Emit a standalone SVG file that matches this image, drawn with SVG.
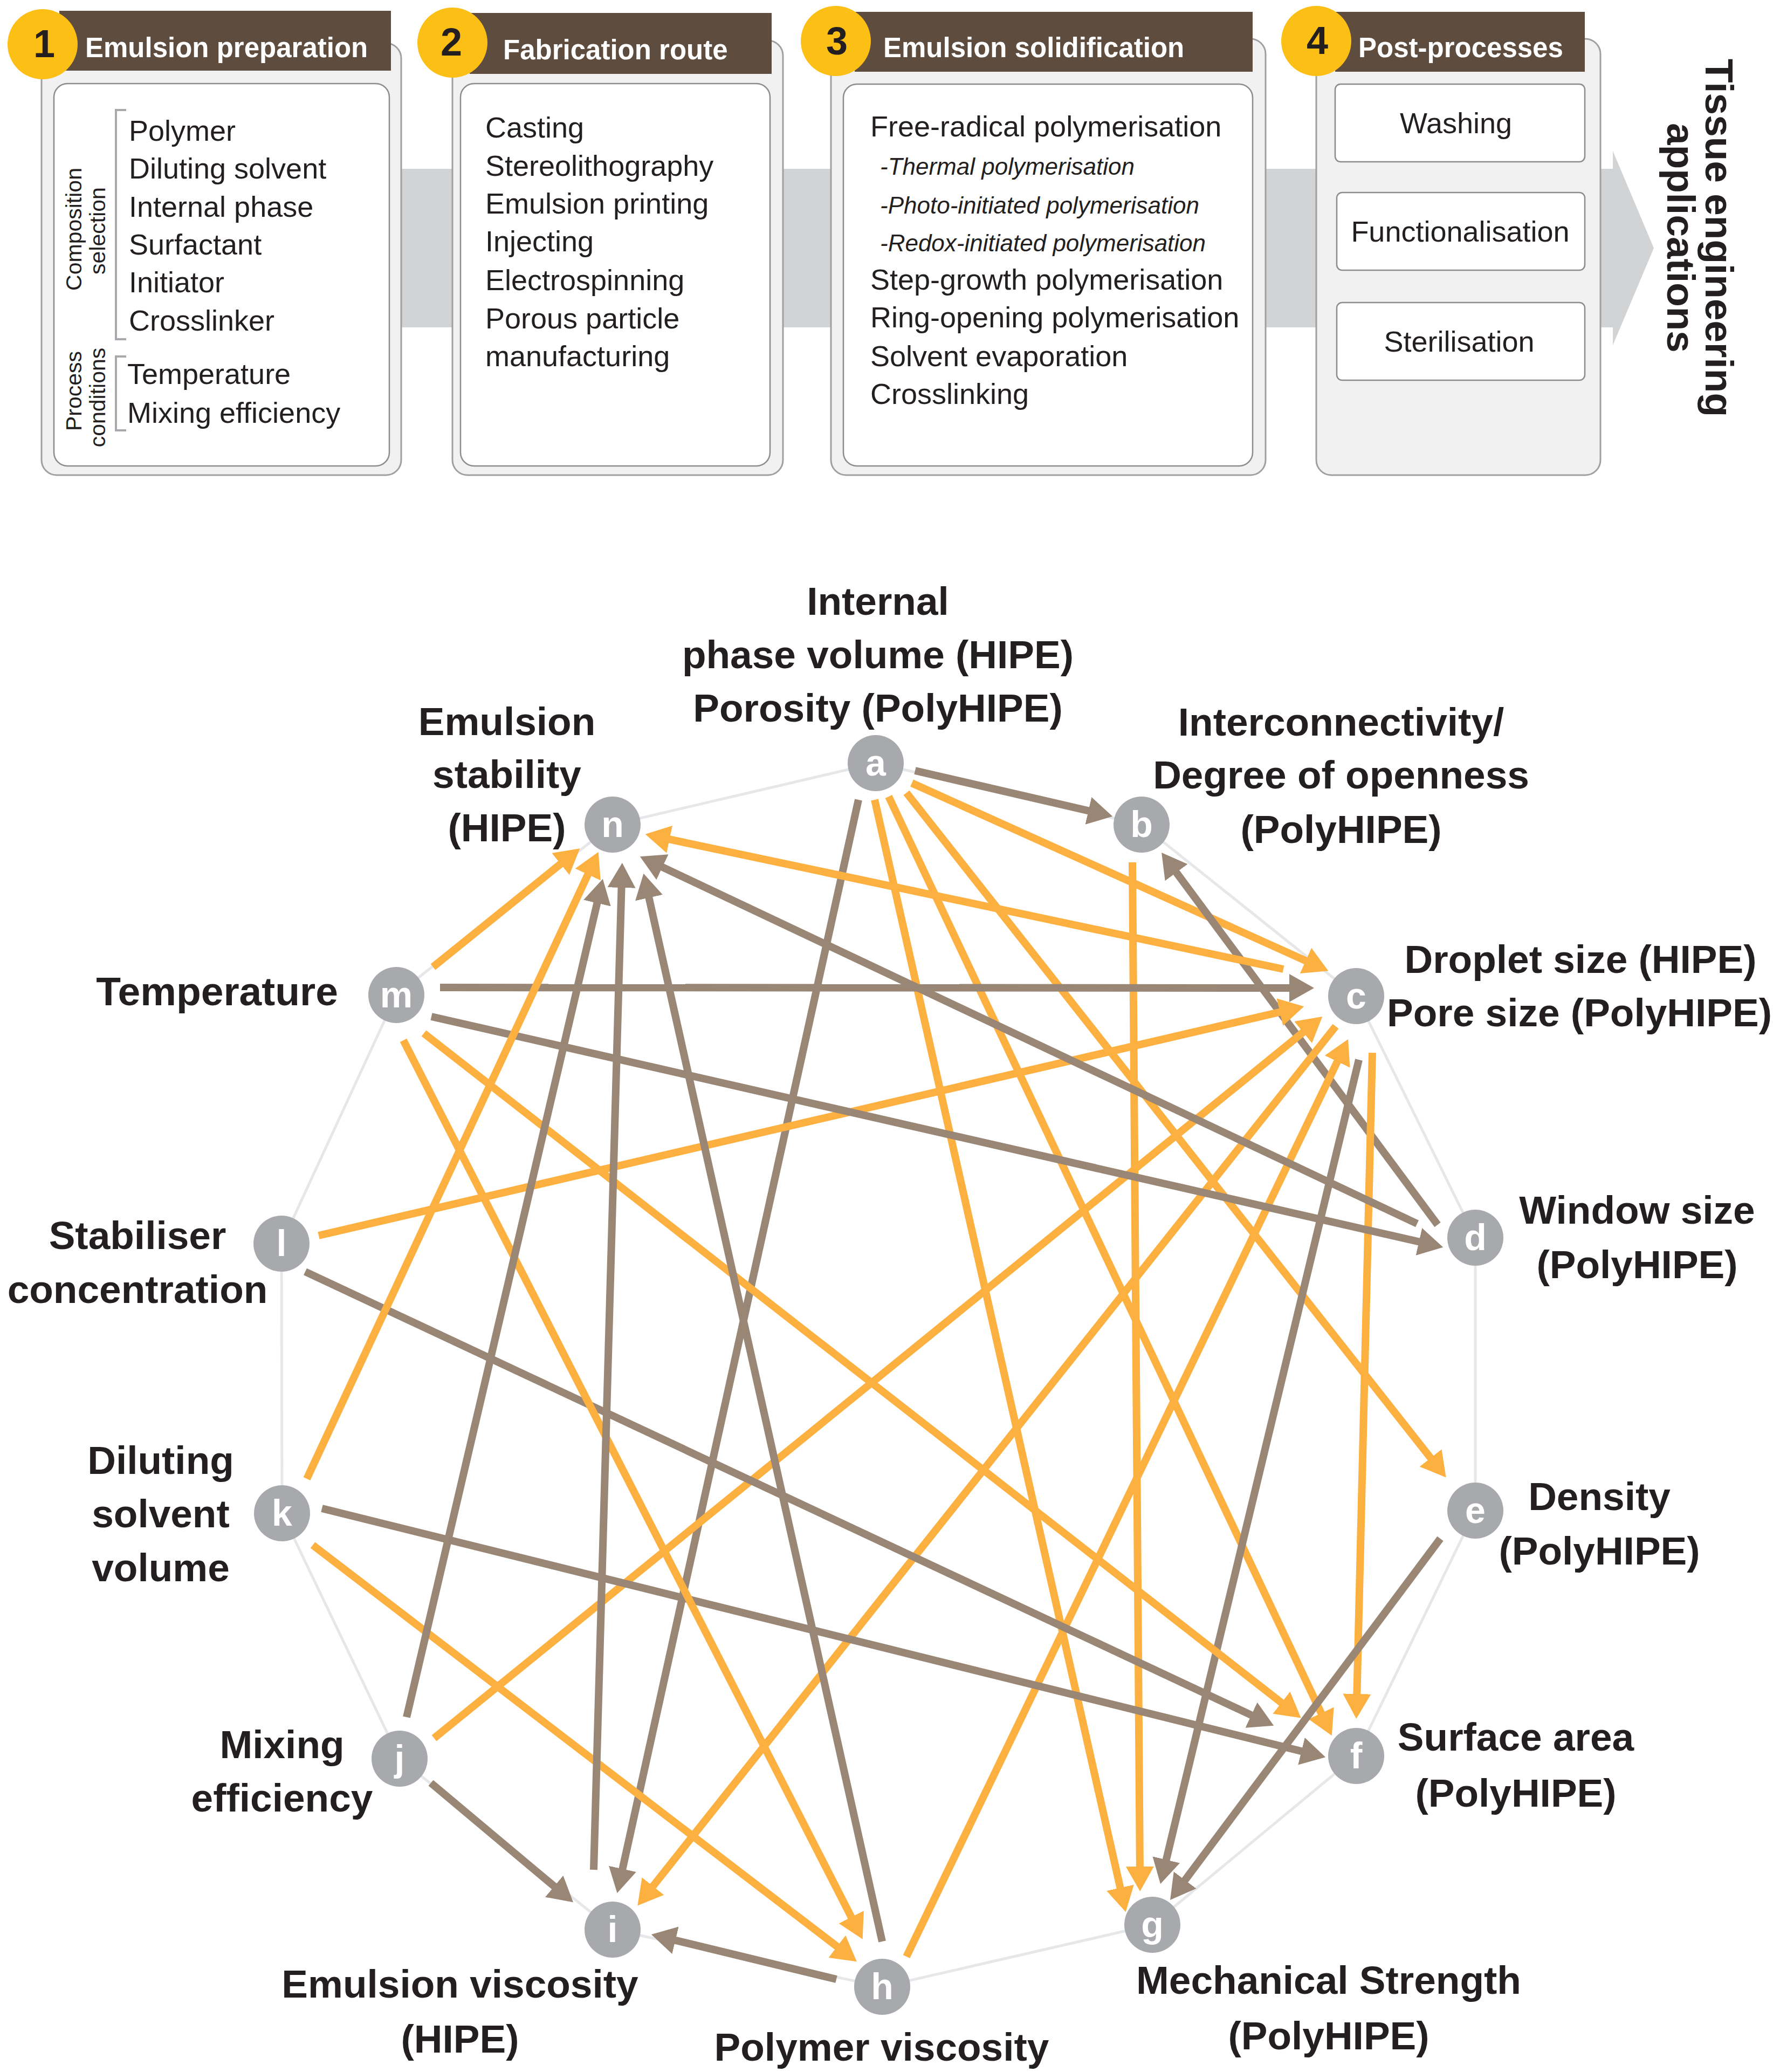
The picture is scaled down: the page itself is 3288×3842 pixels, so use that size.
<svg xmlns="http://www.w3.org/2000/svg" width="3288" height="3842" viewBox="0 0 3288 3842">
<style>
.outer{fill:#f1f1f2;stroke:#a0a0a2;stroke-width:3}
.inner{fill:#ffffff;stroke:#8c8c8e;stroke-width:2.5}
.hdr{fill:#5e4c3e}
.yc{fill:#fcbf16}
.num{font-family:'Liberation Sans',Arial,sans-serif;font-weight:bold;font-size:72px;fill:#231f20;text-anchor:middle}
.htx{font-family:'Liberation Sans',Arial,sans-serif;font-weight:bold;font-size:51px;fill:#ffffff}
.lst{font-family:'Liberation Sans',Arial,sans-serif;font-size:54px;fill:#231f20}
.ctr{text-anchor:middle}
.ital{font-family:'Liberation Sans',Arial,sans-serif;font-style:italic;font-size:44px;fill:#231f20}
.rot{font-family:'Liberation Sans',Arial,sans-serif;font-size:41px;fill:#231f20;text-anchor:middle}
.brk{fill:none;stroke:#a7a9ac;stroke-width:4}
.tea{font-family:'Liberation Sans',Arial,sans-serif;font-weight:bold;font-size:73px;fill:#231f20;text-anchor:middle}
.lbl{font-family:'Liberation Sans',Arial,sans-serif;font-weight:bold;font-size:73px;fill:#231f20;text-anchor:middle}
.lbr{font-family:'Liberation Sans',Arial,sans-serif;font-weight:bold;font-size:75px;fill:#231f20;text-anchor:end}
.nd{fill:#a7a9ac}
.nl{font-family:'Liberation Sans',Arial,sans-serif;font-weight:bold;font-size:68px;fill:#ffffff;text-anchor:middle}
.ring{fill:none;stroke:#e6e7e8;stroke-width:5}
.eo{stroke:#fbb040;stroke-width:14;fill:none;marker-end:url(#ao)}
.eb{stroke:#998675;stroke-width:14;fill:none;marker-end:url(#ab)}
</style>
<defs>
<marker id="ao" markerUnits="userSpaceOnUse" markerWidth="48" markerHeight="54" viewBox="0 0 48 54" refX="16" refY="26" orient="auto"><path d="M0,0 L46,26 L0,52 Z" fill="#fbb040"/></marker>
<marker id="ab" markerUnits="userSpaceOnUse" markerWidth="48" markerHeight="54" viewBox="0 0 48 54" refX="16" refY="26" orient="auto"><path d="M0,0 L46,26 L0,52 Z" fill="#998675"/></marker>
</defs>
<rect width="3288" height="3842" fill="#ffffff"/>

<!-- process band -->
<path id="band" d="M300,313 L2991,313 L2991,280 L3067,460 L2991,640 L2991,607 L300,607 Z" fill="#d1d3d4"/>

<g id="panel1">
<rect class="outer" x="77" y="80" width="667" height="801" rx="28"/>
<rect class="inner" x="100" y="155" width="622" height="709" rx="25"/>
<rect class="hdr" x="110" y="20" width="615" height="111"/>
<circle class="yc" cx="79" cy="82" r="65"/>
<text class="num" x="82" y="106">1</text>
<text class="htx" x="158" y="106">Emulsion preparation</text>
<path class="brk" d="M234,204 L215,204 L215,629 L234,629"/>
<path class="brk" d="M234,661 L215,661 L215,798 L234,798"/>
<text class="rot" transform="translate(151,425) rotate(-90)">Composition</text>
<text class="rot" transform="translate(195,428) rotate(-90)">selection</text>
<text class="rot" transform="translate(151,725) rotate(-90)">Process</text>
<text class="rot" transform="translate(195,737) rotate(-90)">conditions</text>
<text class="lst" x="239" y="261">Polymer</text>
<text class="lst" x="239" y="331">Diluting solvent</text>
<text class="lst" x="239" y="402">Internal phase</text>
<text class="lst" x="239" y="472">Surfactant</text>
<text class="lst" x="239" y="542">Initiator</text>
<text class="lst" x="239" y="613">Crosslinker</text>
<text class="lst" x="236" y="712">Temperature</text>
<text class="lst" x="236" y="784">Mixing efficiency</text>
</g>

<g id="panel2">
<rect class="outer" x="839" y="75" width="613" height="806" rx="28"/>
<rect class="inner" x="854" y="155" width="574" height="709" rx="25"/>
<rect class="hdr" x="871" y="24" width="560" height="113"/>
<circle class="yc" cx="839" cy="79" r="65"/>
<text class="num" x="837" y="103">2</text>
<text class="htx" x="933" y="110">Fabrication route</text>
<text class="lst" x="900" y="255">Casting</text>
<text class="lst" x="900" y="326">Stereolithography</text>
<text class="lst" x="900" y="396">Emulsion printing</text>
<text class="lst" x="900" y="466">Injecting</text>
<text class="lst" x="900" y="538">Electrospinning</text>
<text class="lst" x="900" y="609">Porous particle</text>
<text class="lst" x="900" y="679">manufacturing</text>
</g>

<g id="panel3">
<rect class="outer" x="1541" y="72" width="806" height="809" rx="28"/>
<rect class="inner" x="1564" y="156" width="759" height="708" rx="25"/>
<rect class="hdr" x="1585" y="22" width="738" height="111"/>
<circle class="yc" cx="1550" cy="76" r="65"/>
<text class="num" x="1552" y="101">3</text>
<text class="htx" x="1638" y="106">Emulsion solidification</text>
<text class="lst" x="1614" y="253">Free-radical polymerisation</text>
<text class="ital" x="1632" y="324">-Thermal polymerisation</text>
<text class="ital" x="1632" y="396">-Photo-initiated polymerisation</text>
<text class="ital" x="1632" y="466">-Redox-initiated polymerisation</text>
<text class="lst" x="1614" y="537">Step-growth polymerisation</text>
<text class="lst" x="1614" y="607">Ring-opening polymerisation</text>
<text class="lst" x="1614" y="679">Solvent evaporation</text>
<text class="lst" x="1614" y="749">Crosslinking</text>
</g>

<g id="panel4">
<rect class="outer" x="2441" y="72" width="527" height="809" rx="28"/>
<rect class="hdr" x="2476" y="22" width="463" height="111"/>
<circle class="yc" cx="2441" cy="76" r="65"/>
<text class="num" x="2443" y="100">4</text>
<text class="htx" x="2519" y="106">Post-processes</text>
<rect class="inner" x="2476" y="156" width="463" height="144" rx="10"/>
<rect class="inner" x="2479" y="357" width="460" height="144" rx="10"/>
<rect class="inner" x="2479" y="561" width="460" height="144" rx="10"/>
<text class="lst ctr" x="2700" y="247">Washing</text>
<text class="lst ctr" x="2708" y="448">Functionalisation</text>
<text class="lst ctr" x="2706" y="652">Sterilisation</text>
</g>

<g id="outcome">
<text class="tea" transform="translate(3163,441) rotate(90)">Tissue engineering</text>
<text class="tea" transform="translate(3092,441) rotate(90)">applications</text>
</g>

<g id="ring">
<polygon class="ring" points="1624,1415 2117,1529 2515,1847 2736,2295 2736,2801 2515,3256 2137,3569 1636,3684 1136,3578 741,3261 523,2806 522,2306 735,1845 1136,1529"/>
</g>

<g id="connectors">
<line class="eb" x1="1697" y1="1429" x2="2034" y2="1507"/>
<line class="eo" x1="1691" y1="1452" x2="2436" y2="1788"/>
<line class="eo" x1="1681" y1="1470" x2="2663" y2="2716"/>
<line class="eo" x1="1648" y1="1477" x2="2457" y2="3191"/>
<line class="eo" x1="1622" y1="1483" x2="2081" y2="3516"/>
<line class="eb" x1="1592" y1="1483" x2="1151" y2="3481"/>
<line class="eo" x1="2100" y1="1599" x2="2114" y2="3477"/>
<line class="eb" x1="2666" y1="2271" x2="2172" y2="1605"/>
<line class="eo" x1="2380" y1="1797" x2="1226" y2="1553"/>
<line class="eo" x1="2545" y1="1952" x2="2516" y2="3157"/>
<line class="eb" x1="2520" y1="1965" x2="2159" y2="3464"/>
<line class="eo" x1="2477" y1="1903" x2="1201" y2="3510"/>
<line class="eb" x1="816" y1="1831" x2="2407" y2="1832"/>
<line class="eo" x1="591" y1="2291" x2="2389" y2="1873"/>
<line class="eo" x1="805" y1="3223" x2="2429" y2="1904"/>
<line class="eo" x1="1681" y1="3628" x2="2487" y2="1954"/>
<line class="eb" x1="2628" y1="2269" x2="1214" y2="1601"/>
<line class="eb" x1="800" y1="1885" x2="2647" y2="2306"/>
<line class="eb" x1="2671" y1="2853" x2="2188" y2="3499"/>
<line class="eb" x1="597" y1="2797" x2="2429" y2="3251"/>
<line class="eb" x1="566" y1="2358" x2="2335" y2="3187"/>
<line class="eo" x1="786" y1="1916" x2="2389" y2="3167"/>
<line class="eb" x1="1636" y1="3600" x2="1200" y2="1649"/>
<line class="eb" x1="1551" y1="3670" x2="1237" y2="3594"/>
<line class="eo" x1="748" y1="1929" x2="1586" y2="3569"/>
<line class="eo" x1="580" y1="2865" x2="1565" y2="3619"/>
<line class="eb" x1="1101" y1="3467" x2="1153" y2="1630"/>
<line class="eb" x1="799" y1="3306" x2="1040" y2="3508"/>
<line class="eb" x1="754" y1="3184" x2="1111" y2="1659"/>
<line class="eo" x1="569" y1="2742" x2="1097" y2="1607"/>
<line class="eo" x1="803" y1="1793" x2="1052" y2="1592"/>
</g>

<g id="node-a"><circle class="nd" cx="1624" cy="1415" r="52"/><text class="nl" x="1624" y="1438">a</text>
<text class="lbl" x="1628" y="1140">Internal</text><text class="lbl" x="1628" y="1239">phase volume (HIPE)</text><text class="lbl" x="1628" y="1338">Porosity (PolyHIPE)</text></g>
<g id="node-b"><circle class="nd" cx="2117" cy="1529" r="52"/><text class="nl" x="2117" y="1552">b</text>
<text class="lbl" x="2487" y="1364">Interconnectivity/</text><text class="lbl" x="2487" y="1462">Degree of openness</text><text class="lbl" x="2487" y="1563">(PolyHIPE)</text></g>
<g id="node-c"><circle class="nd" cx="2515" cy="1847" r="52"/><text class="nl" x="2515" y="1870">c</text>
<text class="lbl" x="2931" y="1804">Droplet size (HIPE)</text><text class="lbl" x="2929" y="1903">Pore size (PolyHIPE)</text></g>
<g id="node-d"><circle class="nd" cx="2736" cy="2295" r="52"/><text class="nl" x="2736" y="2318">d</text>
<text class="lbl" x="3036" y="2269">Window size</text><text class="lbl" x="3036" y="2370">(PolyHIPE)</text></g>
<g id="node-e"><circle class="nd" cx="2736" cy="2801" r="52"/><text class="nl" x="2736" y="2824">e</text>
<text class="lbl" x="2966" y="2800">Density</text><text class="lbl" x="2966" y="2901">(PolyHIPE)</text></g>
<g id="node-f"><circle class="nd" cx="2515" cy="3256" r="52"/><text class="nl" x="2515" y="3279">f</text>
<text class="lbl" x="2811" y="3246">Surface area</text><text class="lbl" x="2811" y="3350">(PolyHIPE)</text></g>
<g id="node-g"><circle class="nd" cx="2137" cy="3569" r="52"/><text class="nl" x="2137" y="3592">g</text>
<text class="lbl" x="2464" y="3697">Mechanical Strength</text><text class="lbl" x="2464" y="3800">(PolyHIPE)</text></g>
<g id="node-h"><circle class="nd" cx="1636" cy="3684" r="52"/><text class="nl" x="1636" y="3707">h</text>
<text class="lbl" x="1635" y="3821">Polymer viscosity</text></g>
<g id="node-i"><circle class="nd" cx="1136" cy="3578" r="52"/><text class="nl" x="1136" y="3601">i</text>
<text class="lbl" x="853" y="3704">Emulsion viscosity</text><text class="lbl" x="853" y="3806">(HIPE)</text></g>
<g id="node-j"><circle class="nd" cx="741" cy="3261" r="52"/><text class="nl" x="741" y="3284">j</text>
<text class="lbl" x="523" y="3260">Mixing</text><text class="lbl" x="523" y="3359">efficiency</text></g>
<g id="node-k"><circle class="nd" cx="523" cy="2806" r="52"/><text class="nl" x="523" y="2829">k</text>
<text class="lbl" x="298" y="2733">Diluting</text><text class="lbl" x="298" y="2832">solvent</text><text class="lbl" x="298" y="2932">volume</text></g>
<g id="node-l"><circle class="nd" cx="522" cy="2306" r="52"/><text class="nl" x="522" y="2329">l</text>
<text class="lbl" x="255" y="2316">Stabiliser</text><text class="lbl" x="255" y="2416">concentration</text></g>
<g id="node-m"><circle class="nd" cx="735" cy="1845" r="52"/><text class="nl" x="735" y="1868">m</text>
<text class="lbr" x="627" y="1864">Temperature</text></g>
<g id="node-n"><circle class="nd" cx="1136" cy="1529" r="52"/><text class="nl" x="1136" y="1552">n</text>
<text class="lbl" x="940" y="1363">Emulsion</text><text class="lbl" x="940" y="1461">stability</text><text class="lbl" x="940" y="1560">(HIPE)</text></g>
</svg>
